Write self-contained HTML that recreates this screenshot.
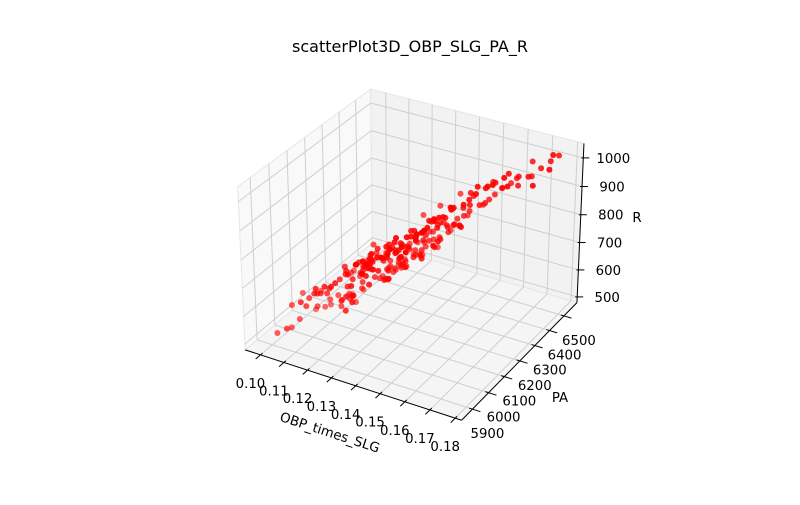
<!DOCTYPE html>
<html><head><meta charset="utf-8"><style>
body{margin:0;background:#fff;}
svg text{font-family:"DejaVu Sans","Liberation Sans",sans-serif;fill:#000;}
</style></head><body>
<svg id="chart" width="800" height="500" viewBox="0 0 800 500" xmlns="http://www.w3.org/2000/svg">
<rect width="800" height="500" fill="#fff"/>
<text x="410" y="52" font-size="16" text-anchor="middle">scatterPlot3D_OBP_SLG_PA_R</text>
<g id="panes"></g>
<g id="grid"></g>
<g id="axes"></g>
<g id="points"></g>
</svg>
<script>
const obp = [
.100,.102,.104,.103,.106,.108,.107,.109,.110,.111,
.112,.113,.114,.114,.115,.116,.116,.117,.118,.118,
.119,.119,.120,.120,.121,.121,.122,.122,.123,.123,
.124,.124,.125,.125,.125,.126,.126,.127,.127,.128,
.128,.129,.129,.130,.130,.130,.131,.131,.131,.132,
.132,.133,.133,.133,.134,.134,.134,.135,.135,.135,
.136,.136,.137,.137,.137,.138,.138,.139,.139,.139,
.140,.140,.140,.141,.141,.142,.142,.142,.143,.143,
.144,.144,.145,.145,.146,.146,.146,.147,.147,.148,
.148,.149,.149,.150,.150,.151,.151,.152,.152,.153,
.154,.154,.155,.156,.156,.157,.158,.158,.159,.160,
.161,.162,.163,.164,.165,.166,.167,.168,.170,.172,
.174,.175,.176,.178,.178,.179,.158,.150,.108,.105,
.126,.128,.130,.132,.134,.136,.138,.140,.142,.144,
.127,.129,.131,.133,.135,.137,.139,.141,.143,.145,
.121,.123,.124,.129,.131,.136,.141,.146,.149,.153,
.115,.117,.119,.121,.123,.125,.127,.129,.131,.133,
.135,.137,.139,.141,.143,.145,.147,.149,.151,.153,
.120,.122,.124,.126,.128,.130,.132,.134,.136,.138,
.140,.142,.144,.146,.148,.150,.152,.154,.156,.158,
.117,.119,.125,.127,.133,.135,.139,.143,.147,.155,
.130,.131,.132,.133,.134,.135,.136,.137,.138,.139,
.125,.126,.128,.129,.141,.142,.144,.145,.147,.149,
.160,.162,.164,.166,.168,.171,.113,.111,.109,.116];
const pa = [
5930,5990,5960,6040,5980,6010,6060,5950,6030,6000,
6080,5990,6050,5970,6100,6020,6070,5980,6060,6120,
6040,6110,6000,6080,6130,6050,6010,6090,6150,6060,
6100,6020,6140,6070,5990,6120,6040,6180,6090,6010,
6150,6080,6200,6110,6040,6170,6130,6060,6220,6100,
6190,6140,6070,6230,6120,6180,6050,6210,6150,6090,
6160,6240,6110,6200,6270,6140,6220,6180,6090,6250,
6200,6130,6280,6170,6240,6110,6210,6300,6190,6260,
6230,6160,6290,6200,6250,6140,6320,6220,6280,6190,
6270,6240,6330,6210,6300,6260,6350,6230,6310,6290,
6340,6250,6300,6370,6280,6330,6400,6290,6360,6320,
6410,6350,6380,6300,6440,6370,6420,6330,6460,6400,
6450,6380,6480,6460,6500,6420,6300,6150,6080,5920,
6080,6120,6160,6010,6090,6130,6060,6150,6080,6170,
6000,6030,6010,6160,6230,6040,6150,6100,6210,6120,
6150,6030,6170,6250,6170,6300,6330,6380,6170,6210,
6020,6100,5990,6070,6140,6030,6110,6190,6060,6130,
6180,6080,6260,6150,6230,6120,6290,6200,6260,6330,
6060,6120,6050,6160,6090,6210,6030,6140,6190,6100,
6180,6270,6140,6220,6300,6180,6250,6320,6230,6350,
6150,6070,6200,6060,6040,6260,6040,6300,6160,6260,
6080,6150,6220,6010,6100,6170,6080,6250,6120,6210,
6090,6010,6180,6040,6090,6200,6270,6060,6240,6110,
6380,6300,6420,6340,6400,6440,6010,6060,5980,6120];
const runs = [
505,580,520,600,545,610,540,630,575,640,
560,650,600,680,570,660,610,690,580,670,
690,600,700,620,660,720,640,590,710,690,
640,730,690,750,620,710,760,650,740,780,
660,750,680,790,730,650,740,800,690,770,
680,780,740,700,810,730,800,690,770,820,
800,720,830,760,700,810,750,840,860,720,
820,740,790,850,760,860,800,730,840,780,
860,780,830,880,800,870,790,850,830,890,
830,880,810,900,850,910,840,920,860,900,
920,860,910,880,940,900,950,960,910,970,
930,980,950,1000,960,1010,980,990,1020,1000,
1010,985,1025,1060,1040,1030,980,830,600,540,
720,680,750,790,700,790,730,800,840,760,
650,740,800,690,760,810,800,770,820,850,
600,680,760,660,720,830,860,890,910,940,
640,590,690,610,700,650,760,680,780,710,
700,820,760,840,790,860,800,900,850,870,
700,680,640,740,760,670,710,790,720,800,
750,800,860,780,880,830,860,940,870,900,
660,720,700,720,760,770,830,820,880,930,
760,700,680,780,700,740,790,760,800,740,
670,700,720,760,800,770,830,840,800,900,
920,990,950,1010,960,980,640,560,600,580];
const xTicks = [0.10,0.11,0.12,0.13,0.14,0.15,0.16,0.17,0.18];
const xTickLabels = ["0.10","0.11","0.12","0.13","0.14","0.15","0.16","0.17","0.18"];
const yTicks = [5900,6000,6100,6200,6300,6400,6500];
const zTicks = [500,600,700,800,900,1000];

const XR=[0.0934,0.1825], YR=[5834,6592], ZR=[478.6,1050];
const NS="http://www.w3.org/2000/svg";
const D=8.75,S=2170,CX=414,CY=247;
const U=[0.866,0.5,0],V=[-0.25,0.433,0.866],W=[0.433,-0.75,0.5];
function projN(u,v,w){
  const d=[u-0.5,v-0.5,(w-0.5)*0.75];
  const xs=d[0]*U[0]+d[1]*U[1]+d[2]*U[2];
  const ys=d[0]*V[0]+d[1]*V[1]+d[2]*V[2];
  const dep=D-(d[0]*W[0]+d[1]*W[1]+d[2]*W[2]);
  return [CX+S*xs/dep, CY-S*ys/dep, dep];
}
function nx(x){return (x-XR[0])/(XR[1]-XR[0]);}
function ny(y){return (y-YR[0])/(YR[1]-YR[0]);}
function nz(z){return (z-ZR[0])/(ZR[1]-ZR[0]);}
function el(tag,attrs,parent){const e=document.createElementNS(NS,tag);for(const k in attrs)e.setAttribute(k,attrs[k]);parent.appendChild(e);return e;}
function line(p,q,color,w,parent){return el('line',{x1:p[0],y1:p[1],x2:q[0],y2:q[1],stroke:color,'stroke-width':w},parent);}
function poly(pts,fill,parent){return el('polygon',{points:pts.map(p=>p[0]+','+p[1]).join(' '),fill:fill,stroke:'#e6e6e6','stroke-width':1},parent);}

const panes=document.getElementById('panes');
let pl=poly([projN(0,0,0),projN(0,1,0),projN(0,1,1),projN(0,0,1)],'#f9f9f9',panes);


let pb=poly([projN(0,1,0),projN(1,1,0),projN(1,1,1),projN(0,1,1)],'#f2f2f2',panes);


let pf=poly([projN(0,0,0),projN(1,0,0),projN(1,1,0),projN(0,1,0)],'#f5f5f5',panes);



const grid=document.getElementById('grid'), GC='#cfcfcf';
xTicks.forEach(t=>{const u=nx(t);
  let g1=line(projN(u,0,0),projN(u,1,0),GC,1,grid);
  
  
  let g2=line(projN(u,1,0),projN(u,1,1),GC,1,grid);
  
  
});
yTicks.forEach(t=>{const v=ny(t);
  let g1=line(projN(0,v,0),projN(1,v,0),GC,1,grid);
  
  
  let g2=line(projN(0,v,0),projN(0,v,1),GC,1,grid);
  
  
});
zTicks.forEach(t=>{const w=nz(t);
  let g1=line(projN(0,0,w),projN(0,1,w),GC,1,grid);
  
  
  let g2=line(projN(0,1,w),projN(1,1,w),GC,1,grid);
  
  
});

const axes=document.getElementById('axes');
let ax=line(projN(0,0,0),projN(1,0,0),'#000',1,axes);


let ay=line(projN(1,0,0),projN(1,1,0),'#000',1,axes);


let az=line(projN(1,1,0),projN(1,1,1),'#000',1,axes);



xTicks.forEach((t,i)=>{const u=nx(t);const p=projN(u,0,0);
  let tk=line(projN(u,0.015,0),projN(u,-0.035,0),'#000',1,axes);
  
  
  const tx=el('text',{x:p[0]-10,y:p[1]+33,'font-size':13.3,'text-anchor':'middle'},axes);
  tx.textContent=xTickLabels[i];
  
  
});
yTicks.forEach(t=>{const v=ny(t);const p=projN(1,v,0);
  let tk=line(projN(0.985,v,0),projN(1.035,v,0),'#000',1,axes);
  
  
  const tx=el('text',{x:p[0]+15,y:p[1]+29,'font-size':13.3,'text-anchor':'middle'},axes);
  tx.textContent=String(t);
  
  
});
zTicks.forEach(t=>{const w=nz(t);const p=projN(1,1,w);
  let tk=line([p[0]-2,p[1]],[p[0]+6,p[1]],'#000',1,axes);
  
  
  const tx=el('text',{x:p[0]+30,y:p[1]+5,'font-size':13.3,'text-anchor':'middle'},axes);
  tx.textContent=String(t);
  
  
});
const xl=el('text',{x:330,y:437,'font-size':13.3,'text-anchor':'middle',transform:'rotate(18 330 432)'},axes);
xl.textContent='OBP_times_SLG';


const yl=el('text',{x:560,y:402,'font-size':13.3,'text-anchor':'middle'},axes);
yl.textContent='PA';


const zl=el('text',{x:637,y:222,'font-size':13.3,'text-anchor':'middle'},axes);
zl.textContent='R';



const ptsG=document.getElementById('points');
const P=obp.map((x,i)=>projN(nx(x),ny(pa[i]),nz(runs[i])));
const deps=P.map(p=>p[2]);const dmin=Math.min(...deps),dmax=Math.max(...deps);
const order=P.map((p,i)=>i).sort((a,b)=>P[b][2]-P[a][2]);
order.forEach(i=>{const p=P[i];
  const a=1-0.45*(p[2]-dmin)/(dmax-dmin||1);
  const c=el('circle',{cx:p[0].toFixed(1),cy:p[1].toFixed(1),r:3.0,fill:'#ff0000','fill-opacity':a.toFixed(2)},ptsG);
  
  
});
</script>
</body></html>
